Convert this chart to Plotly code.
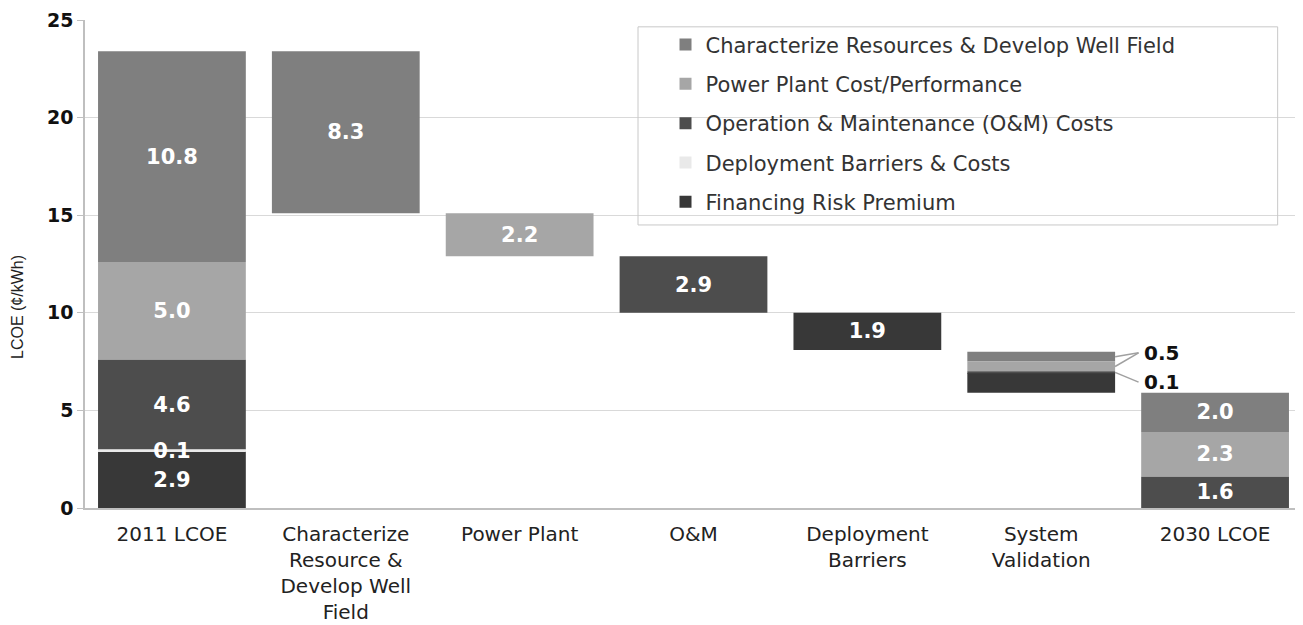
import plotly.graph_objects as go

# ---------------- data ----------------
categories = ["2011 LCOE", "Characterize<br>Resource &<br>Develop Well<br>Field", "Power Plant",
              "O&M", "Deployment<br>Barriers", "System<br>Validation", "2030 LCOE"]

series_names = ["Characterize Resources & Develop Well Field", "Power Plant Cost/Performance",
                "Operation & Maintenance (O&M) Costs", "Deployment Barriers & Costs",
                "Financing Risk Premium"]

characterize = [10.8, 8.3, None, None, None, 0.5, 2.0]
power_plant = [5.0, None, 2.2, None, None, 0.5, 2.3]
om_costs = [4.6, None, None, 2.9, None, 0.1, 1.6]
deployment = [0.1, None, None, None, None, None, None]
financing = [2.9, None, None, None, 1.9, 1.0, None]

y_ticks = [0, 5, 10, 15, 20, 25]

series_colors = ["#7f7f7f", "#a6a6a6", "#4d4d4d", "#e9e9e9", "#383838"]

# ---------------- bases (bridge layout) ----------------
all_series = [characterize, power_plant, om_costs, deployment, financing]
stack_order = [4, 3, 2, 1, 0]   # bottom -> top: financing, deployment, O&M, power, characterize
n = len(categories)

def seg_sum(i):
    return sum((s[i] or 0) for s in all_series)

bases = [[None] * n for _ in all_series]
start_total = seg_sum(0)
end_total = seg_sum(n - 1)
level = start_total
for i in range(n):
    if i == 0 or i == n - 1:
        b = 0.0
    elif i == n - 2:
        b = end_total            # last step bridges up from the 2030 total
    else:
        b = level - seg_sum(i)
        level = b
    for k in stack_order:
        v = all_series[k][i]
        if v:
            bases[k][i] = b
            b += v

fig = go.Figure()
outside_idx = n - 2
draw_order = [0, 1, 2, 4, 3]   # thin deployment segment drawn last so its label stays on top
for k in draw_order:
    name, vals, col = series_names[k], all_series[k], series_colors[k]
    texts = []
    for i, v in enumerate(vals):
        texts.append("" if (v is None or i == outside_idx) else f"{v:.1f}")
    fig.add_trace(go.Bar(
        x=categories, y=vals, base=bases[k], name=name,
        marker=dict(color=col, line=dict(width=0)),
        width=0.85, text=texts, textposition="inside", insidetextanchor="middle",
        textfont=dict(family="DejaVu Sans", size=21, color="white", weight="bold"),
        legendgroup=name, legendrank=k + 1, cliponaxis=False,
    ))

# outside labels for System Validation
sv = outside_idx
edge = sv + 0.425
lx = sv + 0.56
mid = lambda k: bases[k][sv] + all_series[k][sv] / 2
lab_05_y = mid(0) + 0.2
lab_01_y = mid(2) - 0.5
line_col = "#a0a0a0"
for k, ty in [(0, lab_05_y), (1, lab_05_y), (2, lab_01_y)]:
    fig.add_shape(type="line", xref="x", yref="y", x0=edge, y0=mid(k), x1=lx, y1=ty,
                  line=dict(color=line_col, width=1.5))
fig.add_annotation(x=lx + 0.02, y=lab_05_y, xref="x", yref="y", text=f"{characterize[sv]:.1f}",
                   showarrow=False, xanchor="left", yanchor="middle",
                   font=dict(family="DejaVu Sans", size=20, color="#111", weight="bold"))
fig.add_annotation(x=lx + 0.02, y=lab_01_y, xref="x", yref="y", text=f"{om_costs[sv]:.1f}",
                   showarrow=False, xanchor="left", yanchor="middle",
                   font=dict(family="DejaVu Sans", size=20, color="#111", weight="bold"))

# y-axis title as annotation
fig.add_annotation(x=-0.055, y=10.3, xref="paper", yref="y", text="LCOE (¢/kWh)",
                   showarrow=False, textangle=-90, xanchor="center", yanchor="middle",
                   font=dict(family="Liberation Sans Narrow, Liberation Sans", size=16, color="#222"))

# legend frame
fig.add_shape(type="rect", xref="paper", yref="paper", x0=0.4544, x1=0.980, y0=0.580, y1=0.986,
              line=dict(color="#c8c8c8", width=1), fillcolor="rgba(0,0,0,0)", layer="above")

fig.update_layout(
    width=1295, height=617,
    margin=dict(l=77, r=1, t=10, b=116),
    plot_bgcolor="white", paper_bgcolor="white",
    barmode="overlay", bargap=0.15,
    uniformtext=dict(mode="show", minsize=20),
    showlegend=True,
    legend=dict(x=0.477, y=0.991, xanchor="left", yanchor="top",
                font=dict(family="DejaVu Sans", size=21, color="#333"),
                bgcolor="rgba(0,0,0,0)", borderwidth=0, tracegroupgap=9,
                traceorder="grouped", itemclick=False, itemdoubleclick=False),
    xaxis=dict(showline=True, linecolor="#bfbfbf", linewidth=1.5, ticks="",
               tickfont=dict(family="DejaVu Sans", size=20, color="#222"),
               ticklabelstandoff=7,
               showgrid=False, fixedrange=True),
    yaxis=dict(range=[0, 25.001], tickvals=y_ticks, showgrid=True, gridcolor="#d9d9d9", gridwidth=1,
               showline=True, linecolor="#bfbfbf", linewidth=1.5, ticks="outside", ticklen=6,
               tickcolor="#bfbfbf", zeroline=False, ticklabeloverflow="allow",
               tickfont=dict(family="DejaVu Sans", size=19, color="#111", weight="bold")),
)

fig.write_html("out.html")
